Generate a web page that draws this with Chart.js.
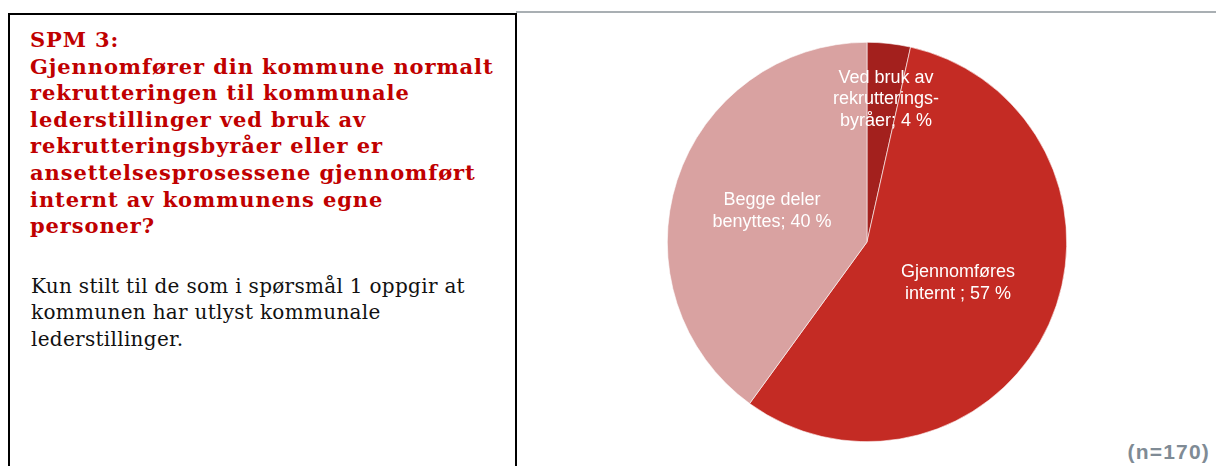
<!DOCTYPE html>
<html>
<head>
<meta charset="utf-8">
<script src="https://cdn.jsdelivr.net/npm/chart.js@4.4.1/dist/chart.umd.min.js"></script>
<style>
  html, body { margin: 0; padding: 0; background: #fff; width: 1216px; height: 466px; overflow: hidden; }
  #box { position: absolute; left: 8px; top: 13px; width: 509px; height: 470px; border: 2px solid #000; box-sizing: border-box; }
  #topline { position: absolute; left: 516px; top: 11px; width: 700px; height: 2px; background: #a9afb3; }
  #title { position: absolute; left: 30px; top: 27px; font-family: Georgia, "DejaVu Serif", serif; font-weight: bold; font-size: 21px; letter-spacing: 0.9px; line-height: 26.6px; color: #c00000; white-space: nowrap; }
  #note { position: absolute; left: 31px; top: 273px; font-family: Georgia, "DejaVu Serif", serif; font-size: 20px; letter-spacing: 0.3px; line-height: 26.3px; color: #111; white-space: nowrap; }
  #nlabel { position: absolute; right: 6px; top: 440px; font-family: "Liberation Sans", Arial, sans-serif; font-weight: bold; font-size: 21px; letter-spacing: 1.2px; color: #7f8b95; }
  #wrap { position: absolute; left: 517px; top: 42px; width: 700px; height: 400px; }
</style>
</head>
<body>
<div id="box"></div>
<div id="topline"></div>
<div id="title">SPM 3:<br>Gjennomfører din kommune normalt<br>rekrutteringen til kommunale<br>lederstillinger ved bruk av<br>rekrutteringsbyråer eller er<br>ansettelsesprosessene gjennomført<br>internt av kommunens egne<br>personer?</div>
<div id="note">Kun stilt til de som i spørsmål 1 oppgir at<br>kommunen har utlyst kommunale<br>lederstillinger.</div>
<div id="nlabel">(n=170)</div>
<div id="wrap"><canvas id="c"></canvas></div>
<script>
const categories = [["Ved bruk av", "rekrutterings-", "byråer"], ["Gjennomføres", "internt "], ["Begge deler", "benyttes"]];
const percentages = [3.5, 56.5, 40.0];
const sliceColors = ["#a3201d", "#c42b24", "#d9a2a1"];

const labelPlugin = {
  id: "sliceLabels",
  afterDatasetsDraw(chart, args, opts) {
    const ctx = chart.ctx;
    const meta = chart.getDatasetMeta(0);
    const ds = chart.data.datasets[0];
    ctx.save();
    ctx.fillStyle = "#ffffff";
    ctx.font = "18px 'Liberation Sans', Arial, sans-serif";
    ctx.textAlign = "center";
    ctx.textBaseline = "middle";
    meta.data.forEach((arc, i) => {
      const p = arc.getProps(["x", "y", "startAngle", "endAngle", "outerRadius"], true);
      const mid = (p.startAngle + p.endAngle) / 2 + opts.angleShift[i];
      const r = p.outerRadius * opts.radiusFrac[i];
      const cx = p.x + Math.cos(mid) * r;
      const cy = p.y + Math.sin(mid) * r;
      const lines = chart.data.labels[i].slice();
      lines[lines.length - 1] = lines[lines.length - 1] + "; " + Math.round(ds.data[i]) + " %";
      const lh = 21.5;
      const y0 = cy - (lines.length - 1) * lh / 2;
      lines.forEach((t, k) => ctx.fillText(t, cx, y0 + k * lh));
    });
    ctx.restore();
  }
};

new Chart(document.getElementById("c"), {
  type: "pie",
  data: {
    labels: categories,
    datasets: [{
      data: percentages,
      backgroundColor: sliceColors,
      borderColor: "#ffffff",
      borderWidth: 0.6
    }]
  },
  options: {
    responsive: true,
    maintainAspectRatio: false,
    animation: false,
    layout: { padding: 0 },
    plugins: {
      legend: { display: false },
      tooltip: { enabled: false },
      sliceLabels: { radiusFrac: [0.72, 0.5, 0.5], angleShift: [0.022, 0, 0] }
    }
  },
  plugins: [labelPlugin]
});
</script>
</body>
</html>
